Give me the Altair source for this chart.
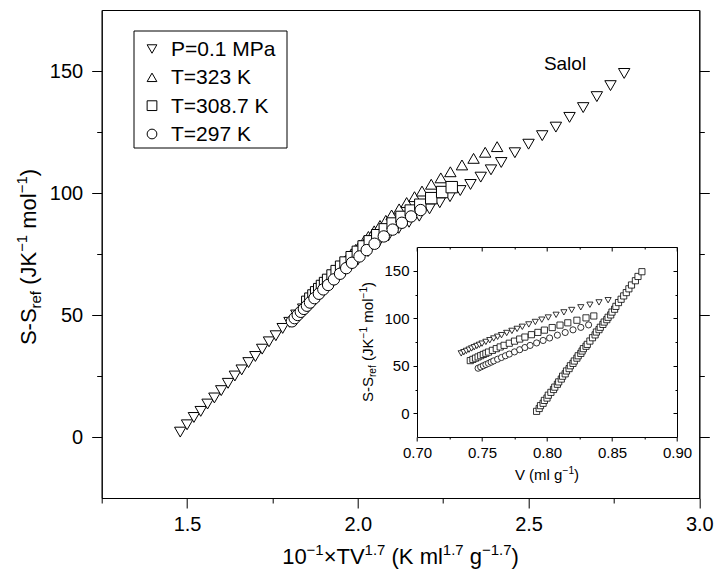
import altair as alt
import pandas as pd

# ---------------- data ----------------
series_names = ["P=0.1 MPa", "T=323 K", "T=308.7 K", "T=297 K"]
series_shapes = ["triangle-down", "triangle-up", "square", "circle"]

# isobar P = 0.1 MPa
bar_x = [1.48, 1.50, 1.52, 1.54, 1.56, 1.58, 1.60, 1.62, 1.64, 1.66, 1.68, 1.70, 1.72, 1.74,
         1.76, 1.78, 1.80, 1.82, 1.84, 1.86, 1.88, 1.90, 1.92, 1.94, 1.96, 1.98, 2.00, 2.03,
         2.06, 2.09, 2.12, 2.15, 2.18, 2.21, 2.24, 2.27, 2.30, 2.33, 2.36, 2.39, 2.42, 2.46,
         2.50, 2.54, 2.58, 2.62, 2.66, 2.70, 2.74, 2.78]
bar_s = [2, 5, 8, 10.5, 13.5, 16, 19, 22, 25, 27.5, 30.5, 33, 36, 39, 41.5, 44.5, 47, 50,
         52.5, 55, 58, 60.5, 63, 65.5, 68, 70.5, 72.5, 76, 79.5, 82.5, 85.5, 88, 90.5, 93.5, 96,
         98.5, 101, 103.5, 106.5, 109.5, 112.5, 116.5, 120, 123.5, 127, 131, 135, 139.5, 144,
         149]
bar_v = [0.792, 0.794, 0.795, 0.797, 0.798, 0.800, 0.801, 0.803, 0.805, 0.806, 0.808, 0.809,
         0.811, 0.812, 0.814, 0.815, 0.817, 0.818, 0.820, 0.821, 0.823, 0.824, 0.826, 0.827,
         0.828, 0.830, 0.831, 0.833, 0.835, 0.837, 0.838, 0.840, 0.841, 0.843, 0.844, 0.846,
         0.847, 0.849, 0.850, 0.852, 0.853, 0.855, 0.857, 0.859, 0.861, 0.863, 0.865, 0.868,
         0.870, 0.873]

# isotherm T = 323 K
t323_v = [0.734, 0.736, 0.738, 0.740, 0.742, 0.744, 0.746, 0.748, 0.750, 0.753, 0.756, 0.759,
          0.762, 0.765, 0.769, 0.773, 0.777, 0.781, 0.786, 0.791, 0.796, 0.801, 0.807, 0.813,
          0.819, 0.826, 0.833, 0.840, 0.847]
t323_s = [63.0, 64.3, 65.6, 66.9, 68.2, 69.5, 70.8, 72.0, 73.3, 75.1, 76.9, 78.7, 80.5, 82.2,
          84.5, 86.7, 88.8, 91.0, 93.5, 96.1, 98.5, 100.8, 103.6, 106.2, 108.7, 111.5, 114.2,
          116.7, 119.0]
t323_x = [1.905, 1.913, 1.921, 1.929, 1.937, 1.945, 1.953, 1.961, 1.969, 1.981, 1.994, 2.006,
          2.019, 2.031, 2.048, 2.065, 2.082, 2.099, 2.121, 2.143, 2.166, 2.188, 2.215, 2.243,
          2.271, 2.305, 2.339, 2.373, 2.408]

# isotherm T = 308.7 K
t308_v = [0.741, 0.743, 0.745, 0.747, 0.749, 0.751, 0.753, 0.755, 0.758, 0.761, 0.764, 0.767,
          0.771, 0.775, 0.779, 0.783, 0.788, 0.793, 0.798, 0.804, 0.810, 0.816, 0.823, 0.830,
          0.836]
t308_s = [55.4, 56.7, 58.0, 59.3, 60.6, 61.9, 63.1, 64.4, 66.2, 68.0, 69.8, 71.5, 73.7, 75.9,
          78.1, 80.2, 82.7, 85.1, 87.5, 90.2, 92.8, 95.2, 97.9, 100.4, 102.4]
t308_x = [1.852, 1.861, 1.870, 1.878, 1.887, 1.895, 1.904, 1.913, 1.926, 1.938, 1.951, 1.964,
          1.982, 2.000, 2.017, 2.035, 2.057, 2.079, 2.102, 2.128, 2.155, 2.183, 2.215, 2.247,
          2.275]

# isotherm T = 297 K
t297_v = [0.747, 0.749, 0.751, 0.753, 0.755, 0.757, 0.759, 0.762, 0.765, 0.768, 0.771, 0.775,
          0.779, 0.783, 0.787, 0.792, 0.797, 0.802, 0.808, 0.814, 0.820, 0.826, 0.832]
t297_s = [47.4, 48.7, 50.0, 51.3, 52.5, 53.8, 55.1, 56.9, 58.7, 60.5, 62.3, 64.6, 66.9, 69.2,
          71.4, 74.0, 76.6, 79.2, 82.2, 85.0, 87.8, 90.4, 93.0]
t297_x = [1.807, 1.815, 1.824, 1.833, 1.842, 1.851, 1.860, 1.873, 1.886, 1.899, 1.913, 1.930,
          1.948, 1.966, 1.983, 2.005, 2.026, 2.049, 2.076, 2.102, 2.129, 2.156, 2.184]

main_x_ticks = [1.25, 1.5, 1.75, 2.0, 2.25, 2.5, 2.75, 3.0]
main_y_ticks = [0, 25, 50, 75, 100, 125, 150]
inset_x_ticks = [0.70, 0.725, 0.75, 0.775, 0.80, 0.825, 0.85, 0.875, 0.90]
inset_y_ticks = [0, 25, 50, 75, 100, 125, 150]

# ---------------- tables ----------------
main_df = pd.concat([
    pd.DataFrame({"x": bar_x, "s": bar_s, "series": series_names[0]}),
    pd.DataFrame({"x": t323_x, "s": t323_s, "series": series_names[1]}),
    pd.DataFrame({"x": t308_x, "s": t308_s, "series": series_names[2]}),
    pd.DataFrame({"x": t297_x, "s": t297_s, "series": series_names[3]}),
], ignore_index=True)

inset_df = pd.concat([
    pd.DataFrame({"v": bar_v, "s": bar_s, "series": "isobar"}),
    pd.DataFrame({"v": t323_v, "s": t323_s, "series": "t323"}),
    pd.DataFrame({"v": t308_v, "s": t308_s, "series": "t308"}),
    pd.DataFrame({"v": t297_v, "s": t297_s, "series": "t297"}),
], ignore_index=True)

legend_df = pd.DataFrame({"series": series_names})

# ---------------- geometry ----------------
PL, PT, PR, PB = 101.7, 10, 15.7, 79
W = 715 - PL - PR
H = 577 - PT - PB
IX0, IX1 = 417 - PL, 677 - PL      # inset frame in plot coords
IY0, IY1 = 437 - PT, 247 - PT
LX0, LX1, LY0, LY1 = 134 - PL, 287 - PL, 31 - PT, 148 - PT   # legend box
FONT = "Liberation Sans"

MAIN_X_DOM = [1.25, 3.0]
MAIN_Y_DOM = [-25, 175]
IN_X_DOM = [0.70, 0.90]
IN_Y_DOM = [-25, 175]

def cond_size(mult, big, small):
    return {"condition": {"test": f"abs(datum.value*{mult}-round(datum.value*{mult}))<0.001",
                          "value": big}, "value": small}

def lab_expr(mult):
    return f"abs(datum.value*{mult}-round(datum.value*{mult}))<0.001 ? datum.label : ''"

axis_common = dict(domainColor="black", tickColor="black", labelColor="black",
                   labelFont=FONT, grid=False, title=None, labelOverlap=False,
                   labelFlush=False, domainWidth=1, tickWidth=1)

shape_scale = alt.Scale(domain=series_names, range=series_shapes)

# ---------------- main points ----------------
main_pts = alt.Chart(main_df).mark_point(
    filled=False, fill="white", fillOpacity=1, stroke="black", strokeWidth=1, size=130,
    opacity=1
).encode(
    x=alt.X("x:Q", scale=alt.Scale(domain=MAIN_X_DOM, nice=False, zero=False),
            axis=alt.Axis(values=main_x_ticks, format=".1f", labelExpr=lab_expr(2),
                          tickSize=cond_size(2, 10, 5), labelFontSize=20, labelPadding=6,
                          orient="bottom", **axis_common)),
    y=alt.Y("s:Q", scale=alt.Scale(domain=MAIN_Y_DOM, nice=False, zero=False),
            axis=alt.Axis(values=main_y_ticks, labelExpr="datum.value % 50 === 0 ? datum.label : ''",
                          tickSize={"condition": {"test": "datum.value % 50 === 0", "value": 10},
                                    "value": 5},
                          labelFontSize=20, labelPadding=9, orient="left", **axis_common)),
    shape=alt.Shape("series:N", scale=shape_scale, legend=None),
)

# right-side ticks of main frame
main_right = alt.Chart(main_df).mark_point(opacity=0).encode(
    x=alt.X("x:Q", scale=alt.Scale(domain=MAIN_X_DOM, nice=False, zero=False), axis=None),
    y=alt.Y("s:Q", scale=alt.Scale(domain=MAIN_Y_DOM, nice=False, zero=False),
            axis=alt.Axis(values=main_y_ticks, labels=False, orient="right",
                          tickSize={"condition": {"test": "datum.value % 50 === 0", "value": 10},
                                    "value": 5}, **axis_common)),
)

# ---------------- legend (drawn as marks) ----------------
leg_y = alt.Y("series:N", scale=alt.Scale(type="point", domain=series_names,
                                          range=[39, 124], padding=0), axis=None)
leg_box = alt.Chart(pd.DataFrame({"k": [0]})).mark_rect(
    fill="white", stroke="black", strokeWidth=1
).encode(x=alt.value(LX0), x2=alt.value(LX1), y=alt.value(LY0), y2=alt.value(LY1))
leg_sym = alt.Chart(legend_df).mark_point(
    filled=False, fill="white", fillOpacity=1, stroke="black", strokeWidth=1, size=95
).encode(x=alt.value(152 - PL), y=leg_y,
         shape=alt.Shape("series:N", scale=shape_scale, legend=None))
leg_txt = alt.Chart(legend_df).mark_text(
    align="left", baseline="middle", font=FONT, fontSize=21, color="black", dy=1
).encode(x=alt.value(171 - PL), y=leg_y, text="series:N")

# ---------------- inset ----------------
in_x_scale = alt.Scale(domain=IN_X_DOM, range=[IX0, IX1], nice=False, zero=False)
in_y_scale = alt.Scale(domain=IN_Y_DOM, range=[IY0, IY1], nice=False, zero=False)

inset_pts = alt.Chart(inset_df).mark_point(
    filled=False, fill="white", fillOpacity=1, stroke="black", strokeWidth=0.8, size=38,
    opacity=1
).encode(
    x=alt.X("v:Q", scale=in_x_scale,
            axis=alt.Axis(values=inset_x_ticks, format=".2f", labelExpr=lab_expr(20),
                          tickSize=cond_size(20, 4, 2), labelFontSize=15, labelPadding=4,
                          orient="bottom", offset=-(H - IY0), **axis_common)),
    y=alt.Y("s:Q", scale=in_y_scale,
            axis=alt.Axis(values=inset_y_ticks, labelExpr="datum.value % 50 === 0 ? datum.label : ''",
                          tickSize={"condition": {"test": "datum.value % 50 === 0", "value": 4},
                                    "value": 2},
                          labelFontSize=15, labelPadding=4, orient="left", offset=-IX0,
                          **axis_common)),
    shape=alt.Shape("series:N",
                    scale=alt.Scale(domain=["isobar", "t323", "t308", "t297"],
                                    range=["square", "triangle-down", "square", "circle"]),
                    legend=None),
)

# inset top edge (ticks pointing in) and right edge (ticks pointing in)
inset_frame = alt.Chart(inset_df).mark_point(opacity=0).encode(
    x=alt.X("v:Q", scale=in_x_scale,
            axis=alt.Axis(values=inset_x_ticks, labels=False, tickSize=cond_size(20, 4, 2),
                          orient="bottom", offset=-(H - IY1), **axis_common)),
    y=alt.Y("s:Q", scale=in_y_scale,
            axis=alt.Axis(values=inset_y_ticks, labels=False,
                          tickSize={"condition": {"test": "datum.value % 50 === 0", "value": 4},
                                    "value": 2},
                          orient="left", offset=-IX1, **axis_common)),
)

# ---------------- rich-text titles ----------------
ARIAL = {" ": 278, "(": 333, ")": 333, "-": 333, ".": 278, "×": 584, "−": 584,
         "=": 584, "K": 667, "S": 667, "T": 611, "V": 667, "J": 500, "P": 667, "M": 833,
         "a": 556, "e": 556, "f": 278, "g": 556, "l": 222, "m": 833, "o": 556, "r": 333,
         "i": 222}

def tw(s, size):
    return sum(ARIAL.get(c, 556) for c in s) / 1000 * size

def rich(pieces, size, cx, cy, rotate=False):
    ss = 0.68
    sizes = [size * (ss if k != "n" else 1) for _, k in pieces]
    total = sum(tw(t, fs) for (t, _), fs in zip(pieces, sizes))
    a = -total / 2
    rows = []
    for (t, k), fs in zip(pieces, sizes):
        lead = len(t) - len(t.lstrip(" "))
        a += tw(" " * lead, fs)
        body = t.strip(" ")
        r = 0.40 * size if k == "sup" else (-0.22 * size if k == "sub" else 0)
        if rotate:
            rows.append({"t": body, "px": cx - r, "py": cy - a, "fs": fs, "ang": 270})
        else:
            rows.append({"t": body, "px": cx + a, "py": cy - r, "fs": fs, "ang": 0})
        a += tw(t[lead:], fs)
    return rows

title_rows = []
title_rows += rich([("10", "n"), ("−1", "sup"), ("×TV", "n"), ("1.7", "sup"), (" (K ml", "n"),
                    ("1.7", "sup"), (" g", "n"), ("−1.7", "sup"), (")", "n")],
                   22, W / 2, 554)
title_rows += rich([("S-S", "n"), ("ref", "sub"), (" (JK", "n"), ("−1", "sup"), (" mol", "n"),
                    ("−1", "sup"), (")", "n")], 22, -66, 247, rotate=True)
title_rows += rich([("S-S", "n"), ("ref", "sub"), (" (JK", "n"), ("−1", "sup"), (" mol", "n"),
                    ("−1", "sup"), (")", "n")], 15, 373 - PL, (IY0 + IY1) / 2, rotate=True)
title_rows += rich([("V (ml g", "n"), ("−1", "sup"), (")", "n")], 15, (IX0 + IX1) / 2, 480 - PT)
title_rows += rich([("Salol", "n")], 19, 565 - PL, 70 - PT)
title_df = pd.DataFrame(title_rows)

titles = alt.Chart(title_df).mark_text(
    align="left", baseline="alphabetic", font=FONT, color="black"
).encode(
    x=alt.X("px:Q", scale=None, axis=None),
    y=alt.Y("py:Q", scale=None, axis=None),
    text="t:N",
    size=alt.Size("fs:Q", scale=None, legend=None),
    angle=alt.Angle("ang:Q", scale=None, legend=None),
)

chart = alt.layer(main_pts, main_right, inset_pts, inset_frame, leg_box, leg_sym, leg_txt,
                  titles).resolve_scale(
    x="independent", y="independent", shape="independent"
).resolve_axis(
    x="independent", y="independent"
).properties(
    width=W, height=H,
    padding={"left": PL, "top": PT, "right": PR, "bottom": PB},
    autosize=alt.AutoSizeParams(type="none"),
    background="white",
).configure_view(stroke="black", strokeWidth=1)

chart.save("out.html", embed_options={"renderer": "svg", "actions": False})
